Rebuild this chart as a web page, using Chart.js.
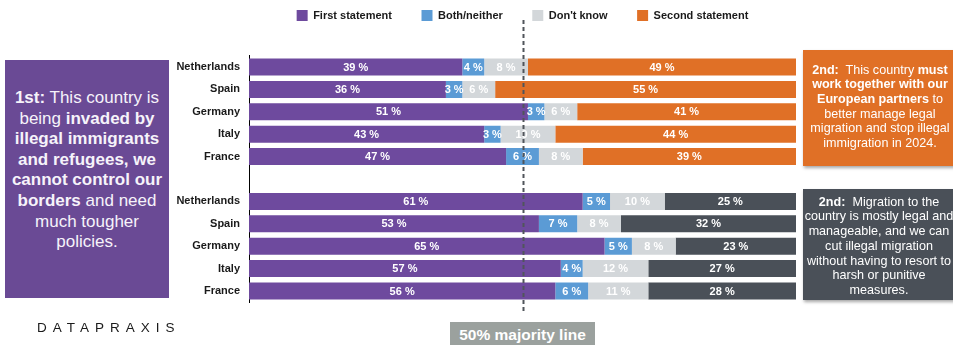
<!DOCTYPE html>
<html>
<head>
<meta charset="utf-8">
<script src="https://cdn.jsdelivr.net/npm/chart.js@4/dist/chart.umd.min.js"></script>
<style>
  html, body { margin: 0; padding: 0; background: #fff; }
  body { width: 953px; height: 345px; overflow: hidden; position: relative; font-family: "Liberation Sans", Arial, Helvetica, sans-serif; }
  #wrap { position: absolute; left: 0; top: 0; width: 953px; height: 345px; }
  .box { position: absolute; color: #fff; text-align: center; white-space: nowrap; box-sizing: border-box; }
  #leftBox { left: 5px; top: 60px; width: 164px; height: 238px; background: #6a4a95; font-size: 17px; line-height: 20.6px; padding-top: 28px; color: #f6f3fa; }
  #orangeBox { left: 803px; top: 50px; width: 154px; height: 116px; background: #e07026; font-size: 12.6px; line-height: 14.7px; padding-top: 12.5px; box-shadow: 1px 2px 3px rgba(0,0,0,0.35); }
  #grayBox { left: 803px; top: 189px; width: 152px; height: 111px; background: #4a5058; font-size: 12.6px; line-height: 14.8px; padding-top: 5.5px; box-shadow: 1px 2px 3px rgba(0,0,0,0.35); }
  #majority { left: 450px; top: 322px; width: 145px; height: 26px; background: #9ba19e; font-size: 15.5px; font-weight: bold; line-height: 26px; padding-top: 0; }
  #logo { position: absolute; left: 37px; top: 319px; font-size: 13.5px; letter-spacing: 6px; color: #1a1a1a; line-height: 18px; }
  b { font-weight: bold; }
</style>
</head>
<body>
<div id="wrap"><canvas id="c" width="953" height="345"></canvas></div>

<div class="box" id="leftBox"><b>1st:</b> This country is<br>being <b>invaded by</b><br><b>illegal immigrants</b><br><b>and refugees, we</b><br><b>cannot control our</b><br><b>borders</b> and need<br>much tougher<br>policies.</div>

<div class="box" id="orangeBox"><b>2nd:</b>&nbsp; This country <b>must</b><br><b>work together with our</b><br><b>European partners</b> to<br>better manage legal<br>migration and stop illegal<br>immigration in 2024.</div>

<div class="box" id="grayBox"><b>2nd:</b>&nbsp; Migration to the<br>country is mostly legal and<br>manageable, and we can<br>cut illegal migration<br>without having to resort to<br>harsh or punitive<br>measures.</div>

<div class="box" id="majority">50% majority line</div>
<div id="logo">DATAPRAXIS</div>

<script>
// ---- Data ----
const categories = ['Netherlands', 'Spain', 'Germany', 'Italy', 'France', '', 'Netherlands', 'Spain', 'Germany', 'Italy', 'France'];
const seriesNames = ['First statement', 'Both/neither', "Don't know", 'Second statement'];
const firstStatement  = [39, 36, 51, 43, 47, null, 61, 53, 65, 57, 56];
const bothNeither     = [4, 3, 3, 3, 6, null, 5, 7, 5, 4, 6];
const dontKnow        = [8, 6, 6, 10, 8, null, 10, 8, 8, 12, 11];
const secondStatement = [49, 55, 41, 44, 39, null, 25, 32, 23, 27, 28];
const majorityValue = 50;

// ---- Styles ----
const PURPLE = '#6e4a9e', BLUE = '#5b9bd5', LIGHT = '#d3d7da', ORANGE = '#e07026', DARK = '#4a5058';
const FONT = '"Liberation Sans", Arial, Helvetica, sans-serif';

const valueLabels = {
  id: 'valueLabels',
  afterDatasetsDraw(chart) {
    const ctx = chart.ctx, area = chart.chartArea;
    ctx.save();
    ctx.font = 'bold 11px ' + FONT;
    ctx.fillStyle = '#ffffff';
    ctx.textAlign = 'center';
    ctx.textBaseline = 'middle';
    chart.data.datasets.forEach((ds, di) => {
      const meta = chart.getDatasetMeta(di);
      meta.data.forEach((bar, i) => {
        const v = ds.data[i];
        if (v === null || v === undefined) return;
        const x1 = Math.min(bar.x, area.right), x0 = Math.max(bar.base, area.left);
        ctx.fillText(v + ' %', (x0 + x1) / 2, bar.y + 0.5);
      });
    });
    ctx.restore();
  }
};

const majorityLine = {
  id: 'majorityLine',
  afterDraw(chart) {
    const ctx = chart.ctx;
    const x = Math.round(chart.scales.x.getPixelForValue(majorityValue)) + 0.5;
    ctx.save();
    ctx.strokeStyle = '#50555b';
    ctx.lineWidth = 2;
    ctx.setLineDash([4, 3]);
    ctx.beginPath();
    ctx.moveTo(x, 20);
    ctx.lineTo(x, 314);
    ctx.stroke();
    ctx.restore();
  }
};

new Chart(document.getElementById('c'), {
  type: 'bar',
  data: {
    labels: categories,
    datasets: [
      { label: seriesNames[0], data: firstStatement, backgroundColor: PURPLE },
      { label: seriesNames[1], data: bothNeither, backgroundColor: BLUE },
      { label: seriesNames[2], data: dontKnow, backgroundColor: LIGHT },
      { label: seriesNames[3], data: secondStatement,
        backgroundColor: (c) => (c.dataIndex !== undefined && c.dataIndex > 5) ? DARK : ORANGE }
    ]
  },
  options: {
    indexAxis: 'y',
    responsive: false,
    animation: false,
    events: [],
    datasets: { bar: { barPercentage: 0.76, categoryPercentage: 1.0, borderWidth: 0 } },
    layout: { padding: { left: 0, right: 157, top: -19.5, bottom: 42.8 } },
    scales: {
      x: { stacked: true, min: 0, max: 100, display: false },
      y: {
        stacked: true,
        grid: { display: false, drawTicks: false },
        border: { display: true, color: '#000', width: 1 },
        ticks: { padding: 9, color: '#1a1a1a', font: { family: FONT, size: 11, weight: 'bold' }, autoSkip: false },
        afterFit: (s) => { s.width = 249; }
      }
    },
    plugins: {
      tooltip: { enabled: false },
      legend: {
        position: 'top',
        fullSize: false,
        weight: 1000,
        labels: {
          boxWidth: 11, boxHeight: 11, padding: 29.5,
          color: '#1a1a1a',
          font: { family: FONT, size: 11, weight: 'bold' }
        }
      },
      title: {
        display: true,
        text: '',
        position: 'top',
        fullSize: false,
        weight: 500,
        font: { size: 10, lineHeight: 1.2 },
        padding: { top: 0, bottom: 12.8 }
      }
    }
  },
  plugins: [valueLabels, majorityLine]
});
</script>
</body>
</html>
